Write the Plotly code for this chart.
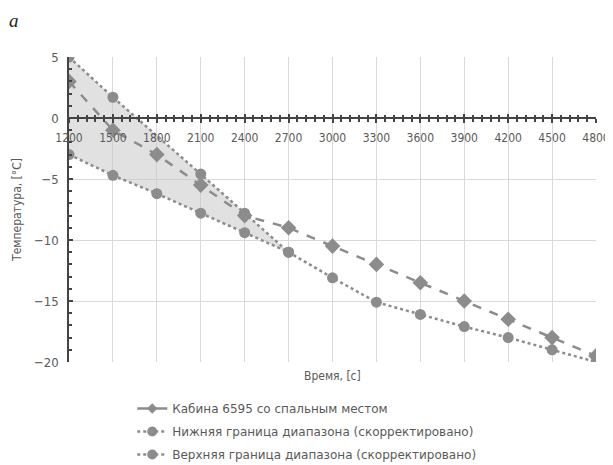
import plotly.graph_objects as go

time = [1200, 1500, 1800, 2100, 2400, 2700, 3000, 3300, 3600, 3900, 4200, 4500, 4800]
cabin = [3, -1, -3, -5.5, -8, -9, -10.5, -12, -13.5, -15, -16.5, -18, -19.5]
lower = [-3, -4.7, -6.2, -7.8, -9.4, -11, -13.1, -15.1, -16.1, -17.1, -18, -19, -20]
upper_time = [1200, 1500, 2100, 2400, 2700]
upper = [5, 1.7, -4.6, -7.8, -11]

name_cabin = "Кабина 6595 со спальным местом"
name_lower = "Нижняя граница диапазона (скорректировано)"
name_upper = "Верхняя граница диапазона (скорректировано)"

x_ticks = list(range(1200, 4801, 300))
y_ticks = [5, 0, -5, -10, -15, -20]

GRAY = "#8c8c8c"
TXT = "#5a5a5a"
FONT = "DejaVu Sans Condensed"

# band polygon between upper and lower bounds
n_band = len([t for t in time if t <= upper_time[-1]])
band_x = upper_time + time[:n_band][::-1]
band_y = upper + lower[:n_band][::-1]

fig = go.Figure()
fig.add_trace(go.Scatter(x=band_x, y=band_y, fill="toself", fillcolor="rgba(200,200,200,0.55)",
                         line=dict(width=0), mode="lines", showlegend=False, hoverinfo="skip"))
fig.add_trace(go.Scatter(x=time, y=cabin, name=name_cabin, mode="lines+markers",
                         line=dict(color=GRAY, width=2.5, dash="dash"),
                         marker=dict(symbol="diamond", size=12, color=GRAY), showlegend=False))
fig.add_trace(go.Scatter(x=time, y=lower, name=name_lower, mode="lines+markers",
                         line=dict(color=GRAY, width=2.5, dash="dot"),
                         marker=dict(symbol="circle", size=11, color=GRAY), showlegend=False))
fig.add_trace(go.Scatter(x=upper_time, y=upper, name=name_upper, mode="lines+markers",
                         line=dict(color=GRAY, width=2.5, dash="dot"),
                         marker=dict(symbol="circle", size=11, color=GRAY), showlegend=False))
# legend entries
fig.add_trace(go.Scatter(x=[None], y=[None], name=name_cabin, mode="lines+markers",
                         line=dict(color=GRAY, width=2.5),
                         marker=dict(symbol="diamond", size=8, color=GRAY), legendgroup="a"))
fig.add_trace(go.Scatter(x=[None], y=[None], name=name_lower, mode="lines+markers",
                         line=dict(color=GRAY, width=2.5, dash="dot"),
                         marker=dict(symbol="circle", size=10, color=GRAY), legendgroup="b"))
fig.add_trace(go.Scatter(x=[None], y=[None], name=name_upper, mode="lines+markers",
                         line=dict(color=GRAY, width=2.5, dash="dot"),
                         marker=dict(symbol="circle", size=10, color=GRAY), legendgroup="c"))
# invisible trace for overlay axis (upper half of crossing ticks)
fig.add_trace(go.Scatter(x=[time[0]], y=[0], xaxis="x2", mode="markers",
                         marker=dict(opacity=0), showlegend=False, hoverinfo="skip"))

fig.update_layout(
    width=605, height=457,
    margin=dict(l=61, r=17, t=49, b=103, autoexpand=False),
    paper_bgcolor="white", plot_bgcolor="white",
    font=dict(family=FONT, size=11, color=TXT),
    xaxis=dict(range=[1200, 4800], tickvals=x_ticks, ticktext=[str(v) for v in x_ticks],
               anchor="free", position=0.8, showline=True, linecolor="#444", linewidth=1.5,
               ticks="outside", ticklen=4, tickcolor="#444", tickwidth=1.5,
               minor=dict(dtick=60, ticks="outside", ticklen=3, tickcolor="#444", showgrid=False),
               showgrid=True, gridcolor="#d9d9d9", gridwidth=1, zeroline=False,
               tickfont=dict(size=12, color=TXT), ticklabelstandoff=5, automargin=False,
               title=None),
    xaxis2=dict(range=[1200, 4800], overlaying="x", anchor="free", position=0.8,
                tickvals=x_ticks, showticklabels=False, ticks="inside", ticklen=4,
                tickcolor="#444", tickwidth=1.5, showgrid=False, zeroline=False, showline=False,
                automargin=False,
                minor=dict(dtick=60, ticks="inside", ticklen=3, tickcolor="#444")),
    yaxis=dict(range=[-20, 5], tickvals=y_ticks, showline=True, linecolor="#444", linewidth=1.5,
               ticks="inside", ticklen=4, tickcolor="#444", tickwidth=1.5,
               minor=dict(dtick=1, ticks="inside", ticklen=3, tickcolor="#444", showgrid=False),
               showgrid=True, gridcolor="#d9d9d9", zeroline=False, automargin=False,
               tickfont=dict(size=13, color=TXT), ticklabelstandoff=6,
               title=dict(text="Температура, [°С]", font=dict(size=12, color=TXT), standoff=10)),
    legend=dict(x=0.12, y=-0.105, xanchor="left", yanchor="top", bgcolor="rgba(0,0,0,0)",
                font=dict(family="DejaVu Sans", size=12, color=TXT), tracegroupgap=4),
    showlegend=True,
    annotations=[
        dict(text="Время, [с]", xref="paper", yref="paper", x=0.5, y=-0.015,
             xanchor="center", yanchor="top", showarrow=False, font=dict(size=12, color=TXT)),
        dict(text="<i>a</i>", xref="paper", yref="paper", x=-0.116, y=1.158,
             xanchor="left", yanchor="top", showarrow=False, borderpad=0,
             font=dict(family="Liberation Serif", size=19, color="#222")),
    ],
)

fig.write_html("out.html")
